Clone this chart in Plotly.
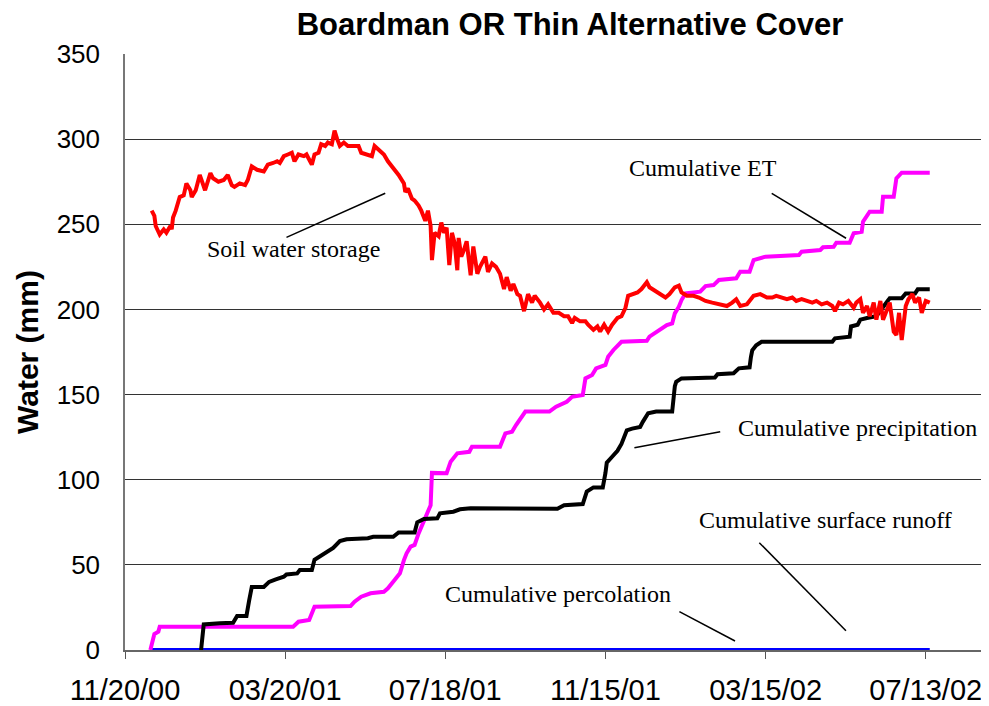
import pandas as pd
import plotly.graph_objects as go

START = pd.Timestamp("2000-11-20")

# Soil water storage (day of record, mm)
swc_day = [20,22,23,26,29,31,34,35,36,38,41,44,46,49,50,53,56,58,60,64,66,70,74,77,80,82,86,90,92,95,99,104,107,111,114,116,119,122,125,127,130,134,136,140,142,145,147,150,152,155,157,159,161,164,167,171,175,177,181,185,187,191,194,197,201,205,
           209,210,212,215,217,220,222,225,227,229,230,232,235,237,239,241,243,245,247,249,250,252,254,256,259,261,264,266,270,272,275,278,281,284,286,289,291,294,296,299,302,305,307,311,314,317,321,325,329,332,335,337,341,345,347,351,354,356,359,362,365,369,372,375,377,380,384,387,391,393,397,401,405,408,412,415,417,421,426,430,435,440,446,451,455,458,461,466,471,476,481,485,488,492,496,500,503,507,511,515,518,522,526,530,532,535,538,542,546,548,551,553,556,558,561,563,566,568,571,573,576,578,580,582,585,587,590,592,595,597,600,603]
swc_mm = [258,255,249,244,247,245,249,247,254,258,266,267,274,270,266,270,279,275,270,280,277,275,276,279,273,272,274,273,276,284,282,281,285,286,287,286,290,291,292,287,291,290,291,285,291,292,297,296,298,297,305,300,296,298,296,296,296,292,291,290,296,293,291,287,283,279,
          274,269,271,265,264,261,258,252,258,249,229,245,243,251,245,248,226,245,239,223,242,231,235,240,220,237,221,225,231,222,227,225,221,212,219,211,215,209,208,199,209,204,208,204,200,203,198,198,196,196,192,195,193,193,191,188,190,187,191,187,191,195,196,201,208,209,210,212,216,213,211,209,207,209,213,214,210,208,208,207,205,204,203,202,204,206,202,203,208,209,207,207,208,207,206,207,205,206,205,204,205,203,204,202,199,204,203,205,201,204,206,198,202,196,204,194,205,194,200,204,187,185,198,182,202,206,209,204,207,198,205,204]

# Cumulative precipitation
pr_day = [57,58,59,71,81,84,91,93,95,104,108,113,119,121,129,131,140,142,146,151,156,161,166,182,186,201,205,217,219,224,234,236,246,251,259,324,329,343,346,351,358,360,361,365,369,372,376,380,386,388,392,398,410,412,413,417,442,444,456,460,468,469,470,473,477,530,532,543,544,549,551,556,563,571,573,582,585,592,594,603]
pr_mm = [0,12,15,15.7,16,20,20,29,37,37,40,41.5,43,44.4,45,47,47,53,55,57,60,64,65,65.6,66.5,66.5,69,69,75,77,77.3,80.3,81.2,82.6,83.2,83,85,85.7,93,95.5,95.5,104,110,113.5,117,121,129,130,131,134,139,140,140,155,157.5,159.5,160,162,162.5,165.4,166,172,176,179,181,181,183,184,190,191,194,195,196,204.5,206.5,206.5,209.4,209.4,211.8,211.8]

# Cumulative ET
et_day = [19,21,22,25,26,126,130,138,142,169,172,177,184,194,197,202,206,209,211,214,217,220,222,225,229,230,236,241,244,249,258,260,281,285,290,293,300,318,323,331,335,343,345,350,353,360,362,366,372,391,393,400,406,410,412,415,417,420,431,435,441,445,458,461,468,471,480,505,507,521,523,531,533,543,546,552,553,558,567,568,576,578,582,603]
et_mm = [0,6,9.4,10.8,13.7,13.7,16.6,17.6,25.4,25.8,28.4,31.3,33.3,34.2,36.2,41.1,45,52.8,56.8,60.7,61.7,68.5,72.4,78.3,85,104,103.8,103.8,110.6,115.5,116.4,119.4,119.4,127.2,128.2,132.1,140,140,142.9,145.8,148.7,149.7,159.5,161.5,165.4,167.4,172.2,176.2,181,181.6,184,187.9,190.8,191.8,197.7,201.6,205.5,209.4,210.4,213.7,214.3,217.3,218.3,222.2,222.2,229,231,232,233.9,234.9,236.5,236.8,239.2,239.2,244.7,245.6,251.5,257.4,257.4,266.2,266.2,277,280.3,280.3]

# Cumulative surface runoff / percolation (zero throughout)
perc_day = [19, 603]
perc_mm = [0, 0]

tick_dates = ["2000-11-20", "2001-03-20", "2001-07-18", "2001-11-15", "2002-03-15", "2002-07-13"]
tick_text = ["11/20/00", "03/20/01", "07/18/01", "11/15/01", "03/15/02", "07/13/02"]
y_ticks = [0, 50, 100, 150, 200, 250, 300, 350]


def to_dates(days):
    return [START + pd.Timedelta(days=d) for d in days]


fig = go.Figure()
fig.add_trace(go.Scatter(x=to_dates(perc_day), y=perc_mm, mode="lines",
                         line=dict(color="#0000FF", width=4), name="Cumulative percolation"))
fig.add_trace(go.Scatter(x=to_dates(et_day), y=et_mm, mode="lines",
                         line=dict(color="#FF00FF", width=4), name="Cumulative ET"))
fig.add_trace(go.Scatter(x=to_dates(pr_day), y=pr_mm, mode="lines",
                         line=dict(color="#000000", width=4), name="Cumulative precipitation"))
fig.add_trace(go.Scatter(x=to_dates(swc_day), y=swc_mm, mode="lines",
                         line=dict(color="#FF0000", width=4), name="Soil water storage"))

# label annotations: (text, text day, text value, line start day, value, line end day, value)
labels = [
    ("Soil water storage", 126, 235.5, 121, 242.3, 195, 268.2),
    ("Cumulative ET", 433, 283, 484.6, 268.2, 540.3, 241.8),
    ("Cumulative precipitation", 549, 130.4, 381.7, 118.8, 446, 128.2),
    ("Cumulative surface runoff", 525, 76.3, 475.3, 63.0, 540.2, 11.3),
    ("Cumulative percolation", 324.5, 32.9, 415.4, 22.5, 457.1, 5.3),
]
for txt, tx, ty, x0, y0, x1, y1 in labels:
    fig.add_annotation(x=START + pd.Timedelta(days=tx), y=ty, text=txt, showarrow=False,
                       font=dict(family="Liberation Serif, Times New Roman, serif", size=24, color="black"),
                       xanchor="center", yanchor="middle")
    fig.add_shape(type="line", xref="x", yref="y",
                  x0=START + pd.Timedelta(days=x0), y0=y0,
                  x1=START + pd.Timedelta(days=x1), y1=y1,
                  line=dict(color="black", width=1.5))

fig.add_annotation(xref="paper", yref="paper", x=(27 - 125) / 860, y=0.5,
                   text="<b>Water (mm)</b>", textangle=-90, showarrow=False,
                   font=dict(family="Liberation Sans, Arial, sans-serif", size=30, color="black"),
                   xanchor="center", yanchor="middle")

# The page body has an 8px margin, so the figure is sized and padded for that offset.
fig.update_layout(
    width=981, height=698,
    margin=dict(l=117, r=4, t=46, b=56, autoexpand=False),
    paper_bgcolor="white", plot_bgcolor="white",
    showlegend=False,
    title=dict(text="<b>Boardman OR Thin Alternative Cover</b>",
               x=(570 - 8) / 981, xref="container", xanchor="center",
               y=1 - (24 - 8) / 698, yref="container", yanchor="middle",
               font=dict(family="Liberation Sans, Arial, sans-serif", size=31, color="black")),
    font=dict(family="Liberation Sans, Arial, sans-serif", color="black"),
)
fig.update_xaxes(
    type="date", automargin=False,
    range=[START, START + pd.Timedelta(days=644.4)],
    tickvals=[pd.Timestamp(d) for d in tick_dates], ticktext=tick_text,
    ticks="outside", ticklen=7, tickwidth=1, tickcolor="#555555",
    showline=True, linecolor="#666666", linewidth=1.5,
    showgrid=False, zeroline=False,
    tickfont=dict(size=29), ticklabelstandoff=6,
)
fig.update_yaxes(
    range=[0, 350], tickvals=y_ticks, automargin=False,
    showline=True, linecolor="#777777", linewidth=1.5,
    showgrid=True, gridcolor="#333333", gridwidth=1,
    zeroline=False, ticks="",
    tickfont=dict(size=26), ticklabelstandoff=18,
)

fig.write_html("out.html")
